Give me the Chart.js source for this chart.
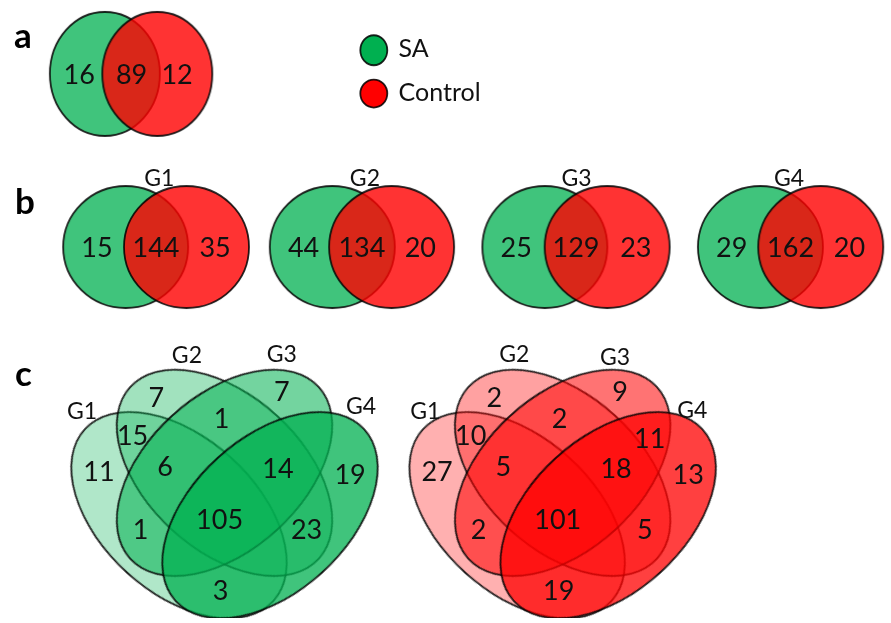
<!DOCTYPE html>
<html>
<head>
<meta charset="utf-8">
<script src="https://cdn.jsdelivr.net/npm/chart.js@4.4.1/dist/chart.umd.min.js"></script>
<style>
  html, body { margin: 0; padding: 0; background: #fff; }
  canvas { display: block; }
</style>
</head>
<body>
<canvas id="venn" width="891" height="623"></canvas>
<script>
// ---- data ----
var setNames = ['SA', 'Control']
var totalCounts = [16, 89, 12]            // SA only, both, Control only
var groupNames = ['G1', 'G2', 'G3', 'G4']
var saOnlyByGroup = [15, 44, 25, 29]
var sharedByGroup = [144, 134, 129, 162]
var controlOnlyByGroup = [35, 20, 23, 20]
// regions of the four-group diagrams (null = no number printed)
var regionNames = ['G1', 'G2', 'G3', 'G4', 'G1G2', 'G2G3', 'G3G4', 'G1G2G3', 'G2G3G4', 'G1G2G3G4', 'G1G3', 'G2G4', 'G1G4']
var saRegionCounts = [11, 7, 7, 19, 15, 1, null, 6, 14, 105, 1, 23, 3]
var controlRegionCounts = [27, 2, 9, 13, 10, 2, 11, 5, 18, 101, 2, 5, 19]

// ---- layout (pixels == scale units) ----
var W = 891, H = 623
var green = '0,176,80', red = '255,0,0'
var pairA = { y: 70, greenX: 101, redX: 154, rx: 55, ry: 62 }
var pairB = { y: 246, greenX: [122, 331, 546, 764], redX: [183.5, 391, 609, 825], rx: 62.5, ry: 61,
              labelX: [156, 364, 578, 793], labelY: 176 }
var quad = { centers: [[176, 518.5], [222, 475.5], [222, 475.5], [268, 518.5]],
             angles: [42.3, 42.3, -42.3, -42.3], a: 127.5, b: 77.5,
             alphas: [0.31, 0.37, 0.55, 0.75], shift: [0, 342] }
var regionPos = [[95, 474], [153, 399], [280, 393], [349, 477], [129, 437], [219, 420], [310, 440],
                 [162, 469], [276, 471], [217, 523], [137, 533], [305, 533], [218, 595]]
var quadLabelPos = [[[78, 412], [184, 355], [280, 354], [360, 407]],
                    [[425, 412], [515, 354], [617, 357], [695, 411]]]
var numberSize = 27, labelSize = 23
var lineColor = 'rgba(0,0,0,0.85)', lineWidth = 1.8

// every ellipse of the figure, drawn in this order
var shapes = []
shapes.push({ x: pairA.greenX, y: pairA.y, rx: pairA.rx, ry: pairA.ry, angle: 0, fill: 'rgba(' + green + ',0.75)' })
shapes.push({ x: pairA.redX, y: pairA.y, rx: pairA.rx, ry: pairA.ry, angle: 0, fill: 'rgba(' + red + ',0.8)' })
groupNames.forEach(function (g, i) {
    shapes.push({ x: pairB.greenX[i], y: pairB.y, rx: pairB.rx, ry: pairB.ry, angle: 0, fill: 'rgba(' + green + ',0.75)' })
    shapes.push({ x: pairB.redX[i], y: pairB.y, rx: pairB.rx, ry: pairB.ry, angle: 0, fill: 'rgba(' + red + ',0.8)' })
})
;[green, red].forEach(function (col, d) {
    groupNames.forEach(function (g, i) {
        shapes.push({ x: quad.centers[i][0] + quad.shift[d], y: quad.centers[i][1], rx: quad.a, ry: quad.b,
                      angle: quad.angles[i], fill: 'rgba(' + col + ',' + quad.alphas[i] + ')' })
    })
})

// an ellipse drawn once on its own canvas, used as the point style
function ellipseImage(rx, ry, fill) {
    var c = document.createElement('canvas')
    c.width = Math.ceil(rx * 2 + 6)
    c.height = Math.ceil(ry * 2 + 6)
    var ctx = c.getContext('2d')
    ctx.beginPath()
    ctx.ellipse(c.width / 2, c.height / 2, rx, ry, 0, 0, Math.PI * 2)
    ctx.fillStyle = fill
    ctx.fill()
    ctx.lineWidth = lineWidth
    ctx.strokeStyle = lineColor
    ctx.stroke()
    return c
}

// all the texts
var texts = []
function addText(t, x, y, size, bold, align) {
    texts.push({ t: String(t), x: x, y: y, size: size, bold: !!bold, align: align || 'center' })
}
addText('a', 9, 31, 35, true, 'left')
addText('b', 10, 200, 35, true, 'left')
addText('c', 10, 374, 35, true, 'left')
addText(totalCounts[0], 75, pairA.y, numberSize)
addText(totalCounts[1], 128, pairA.y, numberSize)
addText(totalCounts[2], 174, pairA.y, numberSize)
groupNames.forEach(function (g, i) {
    addText(g, pairB.labelX[i], pairB.labelY, labelSize)
    addText(saOnlyByGroup[i], pairB.greenX[i] - 29, pairB.y, numberSize)
    addText(sharedByGroup[i], (pairB.greenX[i] + pairB.redX[i]) / 2, pairB.y, numberSize)
    addText(controlOnlyByGroup[i], pairB.redX[i] + 29, pairB.y, numberSize)
})
;[saRegionCounts, controlRegionCounts].forEach(function (counts, d) {
    groupNames.forEach(function (g, i) {
        addText(g, quadLabelPos[d][i][0], quadLabelPos[d][i][1], labelSize)
    })
    counts.forEach(function (v, i) {
        if (v !== null) addText(v, regionPos[i][0] + quad.shift[d], regionPos[i][1], numberSize)
    })
})

var legendBox = { x: 373, y: [46, 90], textX: 398, size: 25 }

var textPlugin = {
    id: 'vennText',
    afterDatasetsDraw: function (chart) {
        var xs = chart.scales.x, ys = chart.scales.y, ctx = chart.ctx
        ctx.save()
        // legend
        setNames.forEach(function (name, i) {
            var px = xs.getPixelForValue(legendBox.x), py = ys.getPixelForValue(legendBox.y[i])
            ctx.beginPath()
            ctx.ellipse(px, py, 13.5, i == 0 ? 15 : 14, 0, 0, Math.PI * 2)
            ctx.fillStyle = 'rgb(' + (i == 0 ? green : red) + ')'
            ctx.fill()
            ctx.lineWidth = lineWidth
            ctx.strokeStyle = lineColor
            ctx.stroke()
            ctx.fillStyle = '#111'
            ctx.font = legendBox.size + 'px Lato'
            ctx.textAlign = 'left'
            ctx.textBaseline = 'alphabetic'
            ctx.fillText(name, xs.getPixelForValue(legendBox.textX), py + 0.36 * legendBox.size - 2)
        })
        texts.forEach(function (tx) {
            ctx.font = (tx.bold ? 'bold ' : '') + tx.size + 'px Lato'
            ctx.fillStyle = tx.bold ? '#000' : '#111'
            ctx.textAlign = tx.align
            ctx.textBaseline = 'alphabetic'
            ctx.fillText(tx.t, xs.getPixelForValue(tx.x), ys.getPixelForValue(tx.y) + 0.36 * tx.size)
        })
        ctx.restore()
    }
}

new Chart(document.getElementById('venn'), {
    type: 'scatter',
    data: {
        datasets: [{
            data: shapes.map(function (s) { return { x: s.x, y: s.y } }),
            pointStyle: shapes.map(function (s) { return ellipseImage(s.rx, s.ry, s.fill) }),
            rotation: shapes.map(function (s) { return s.angle }),
            pointRadius: 2,
            showLine: false
        }]
    },
    options: {
        responsive: false,
        animation: false,
        events: [],
        layout: { padding: 0 },
        plugins: { legend: { display: false }, tooltip: { enabled: false } },
        scales: {
            x: { type: 'linear', min: 0, max: W, display: false, offset: false },
            y: { type: 'linear', min: 0, max: H, reverse: true, display: false, offset: false }
        }
    },
    plugins: [textPlugin]
})
</script>
</body>
</html>
